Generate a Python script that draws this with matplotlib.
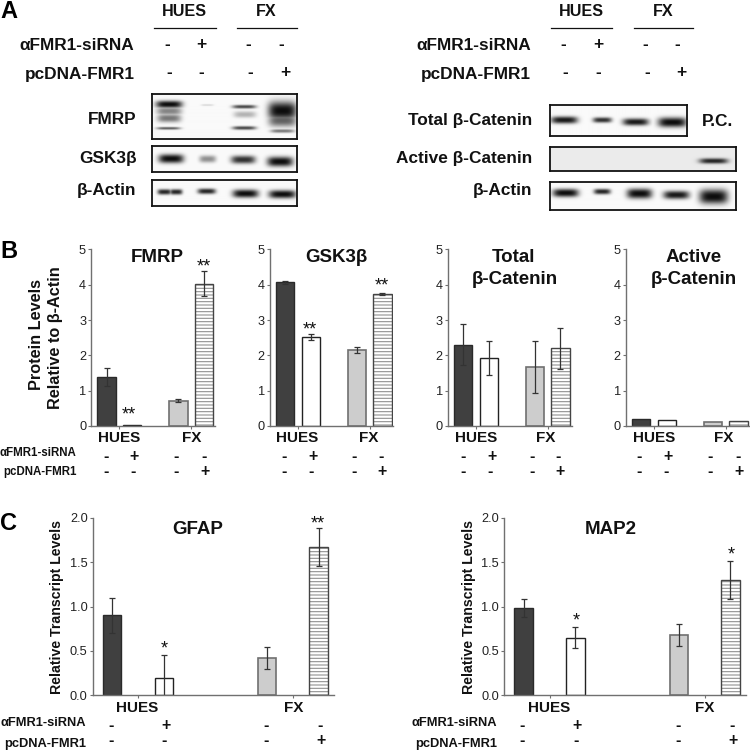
import numpy as np
import matplotlib
matplotlib.use("Agg")
import matplotlib.pyplot as plt

plt.rcParams['font.family'] = ['Liberation Sans', 'DejaVu Sans']
plt.rcParams['hatch.linewidth'] = 0.8

W, H = 750, 751

# bar values and errors, order is HUES -, HUES +, FX -, FX +
fmrpVals = [1.38, 0.03, 0.72, 4.03]
fmrpErrs = [0.25, 0.0, 0.05, 0.35]
gskVals = [4.07, 2.52, 2.15, 3.73]
gskErrs = [0.05, 0.09, 0.08, 0.03]
totalVals = [2.30, 1.93, 1.68, 2.20]
totalErrs = [0.58, 0.48, 0.74, 0.58]
activeVals = [0.20, 0.16, 0.10, 0.13]
activeErrs = [0.0, 0.0, 0.0, 0.0]
gfapVals = [0.90, 0.20, 0.42, 1.67]
gfapErrs = [0.20, 0.25, 0.125, 0.21]
map2Vals = [0.98, 0.65, 0.68, 1.30]
map2Errs = [0.10, 0.12, 0.12, 0.21]

siRNA = ['-', '+', '-', '-']
pcDNA = ['-', '-', '-', '+']

# blot bands: lane x, lane y, half width, half height, darkness (in zoomed crop units)
fmrpBands = [(507, 315, 38, 8, 1.0), (507, 335, 36, 9, .5), (507, 356, 34, 9, .55), (505, 386, 34, 3, .65),
             (622, 317, 18, 2, .15), (733, 322, 34, 4, .75), (735, 345, 32, 7, .3), (733, 385, 34, 4, .75),
             (848, 334, 41, 20, 1.0), (848, 362, 40, 14, .65), (848, 394, 34, 4, .55)]
gskBands = [(513, 476, 36, 10, 1.0), (623, 477, 24, 8, .45), (730, 479, 35, 9, .85), (841, 485, 37, 11, 1.0)]
actinBands = [(493, 575, 20, 6, .9), (528, 575, 18, 6, .9), (620, 573, 26, 6, .9), (737, 580, 37, 9, 1.0),
              (848, 582, 39, 9, 1.0)]
totalBands = [(566, 360, 38, 8, .95), (680, 360, 27, 6, .85), (780, 366, 37, 8, .95), (890, 367, 41, 11, 1.0)]
activeBands = [(1015, 483, 41, 6, .9)]
actin2Bands = [(570, 581, 37, 9, 1.0), (680, 577, 24, 6, .9), (792, 583, 36, 11, 1.0), (903, 587, 37, 9, .95),
               (1015, 592, 41, 16, 1.0)]

fig = plt.figure(figsize=(7.5, 7.51), dpi=100)


def pxAxes(x0, y0, x1, y1, **kw):
    return fig.add_axes([x0 / W, 1 - y1 / H, (x1 - x0) / W, (y1 - y0) / H], **kw)


def drawBlot(x0, y0, x1, y1, bands, offX, offY, bg=0.98):
    ax = pxAxes(x0, y0, x1, y1)
    xs = np.linspace(x0, x1, int(x1 - x0) * 2)
    ys = np.linspace(y0, y1, int(y1 - y0) * 2)
    xx, yy = np.meshgrid(xs, ys)
    dark = np.zeros_like(xx)
    for bx, by, hw, hh, amt in bands:
        bx = offX + bx / 3.0
        by = offY + by / 3.0
        g = np.exp(-np.abs((xx - bx) / (hw * 1.05 / 3.0)) ** 4 - np.abs((yy - by) / (hh * 1.35 / 3.0)) ** 2.4)
        dark = np.maximum(dark, amt * g)
    img = bg * (1 - dark) + 0.05 * dark
    ax.imshow(img, cmap='gray', vmin=0, vmax=1, aspect='auto', interpolation='bilinear')
    ax.set_xticks([])
    ax.set_yticks([])
    for s in ax.spines.values():
        s.set_linewidth(1.3)
        s.set_color('#111111')


def drawBars(x0, y0, x1, y1, pos, width, xlim, ylim, yticks, fmt, tickX, vals, errs):
    ax = pxAxes(x0, y0, x1, y1)
    ax.patch.set_alpha(0)
    ax.bar(pos[0], vals[0], width, color='#404040', edgecolor='#2a2a2a', linewidth=1.0)
    ax.bar(pos[1], vals[1], width, color='white', edgecolor='#222222', linewidth=1.0)
    ax.bar(pos[2], vals[2], width, color='#cdcdcd', edgecolor='#707070', linewidth=1.2)
    ax.bar(pos[3], vals[3], width, color='white', edgecolor='#909090', linewidth=0, hatch='-----')
    ax.bar(pos[3], vals[3], width, color='none', edgecolor='#444444', linewidth=1.0)
    for p, v, e in zip(pos, vals, errs):
        if e > 0:
            ax.errorbar(p, v, yerr=e, color='#333333', elinewidth=0.9, capsize=2.5, capthick=0.9)
    ax.set_xlim(xlim)
    ax.set_ylim(ylim)
    ax.set_yticks(yticks)
    ax.set_yticklabels([fmt % t for t in yticks], fontsize=9.2, color='#222222')
    ax.set_xticks(tickX)
    ax.set_xticklabels([])
    ax.tick_params(axis='both', length=2, width=0.8, color='#707070', pad=1.5)
    ax.spines['top'].set_visible(False)
    ax.spines['right'].set_visible(False)
    ax.spines['left'].set_color('#707070')
    ax.spines['bottom'].set_color('#707070')
    ax.spines['left'].set_linewidth(1.0)
    ax.spines['bottom'].set_linewidth(1.0)
    return ax


# western blots, panel A
drawBlot(152, 94, 297, 139, fmrpBands, 0, 0)
drawBlot(152, 146, 297, 172, gskBands, 0, 0)
drawBlot(152, 180, 297, 205.5, actinBands, 0, 0)
drawBlot(549.5, 105, 687, 136, totalBands, 375, 0)
drawBlot(549.5, 147, 735.5, 171, activeBands, 375, 0, bg=0.92)
drawBlot(549.5, 182, 735.5, 209.5, actin2Bands, 375, 0)

# panel B
posB = [0, 1, 2.8, 3.8]
xlimB = (-0.61, 4.23)
yB = (0, 5)
tB = [0, 1, 2, 3, 4, 5]
ticksB = [0.5, 3.3]
drawBars(91, 249.5, 215, 426, posB, 0.715, xlimB, yB, tB, '%d', ticksB, fmrpVals, fmrpErrs)
drawBars(269.5, 249.5, 393.5, 426, posB, 0.715, xlimB, yB, tB, '%d', ticksB, gskVals, gskErrs)
drawBars(447.5, 249.5, 571.5, 426, posB, 0.715, xlimB, yB, tB, '%d', ticksB, totalVals, totalErrs)
drawBars(625.5, 249.5, 749.5, 426, posB, 0.715, xlimB, yB, tB, '%d', ticksB, activeVals, activeErrs)

# panel C
posC = [0, 1, 3, 4]
xlimC = (-0.38, 4.3)
yC = (0, 2)
tC = [0, 0.5, 1.0, 1.5, 2.0]
ticksC = [0.5, 3.5]
drawBars(92.5, 517.7, 334, 695.3, posC, 0.355, xlimC, yC, tC, '%.1f', ticksC, gfapVals, gfapErrs)
drawBars(504, 517.7, 746, 695.3, posC, 0.355, xlimC, yC, tC, '%.1f', ticksC, map2Vals, map2Errs)

# everything else sits on a pixel-coordinate overlay
ov = fig.add_axes([0, 0, 1, 1], zorder=20)
ov.set_xlim(0, W)
ov.set_ylim(H, 0)
ov.axis('off')


def txt(x, y, s, size, ha='center', rot=0, weight='bold', color='#111111'):
    if rot == 0:
        y = y + 1
    ov.text(x, y, s, fontsize=size, ha=ha, va='center', rotation=rot, fontweight=weight, color=color)


def signs(xs, y, vals, size=12.5):
    for x, v in zip(xs, vals):
        txt(x, y - 1, v, size)


# panel letters
txt(0, 10, 'A', 17, ha='left', color='black')
txt(0, 250, 'B', 17, ha='left', color='black')
txt(0, 523, 'C', 17, ha='left', color='black')

# panel A headers
for hx, fx, l1, l2 in [(184, 265.7, (154, 215.7), (237.3, 296.7)), (581, 662.7, (551, 612.3), (634.3, 693.3))]:
    txt(hx, 10, 'HUES', 11.6)
    txt(fx, 10, 'FX', 11.6)
    ov.plot(l1, [27.7, 27.7], color='#111111', lw=0.9)
    ov.plot(l2, [27.7, 27.7], color='#111111', lw=0.9)

txt(134.5, 44, 'αFMR1-siRNA', 12.4, ha='right')
txt(135, 73, 'pcDNA-FMR1', 12.4, ha='right')
txt(136.5, 119, 'FMRP', 12.4, ha='right')
txt(136.5, 157, 'GSK3β', 12.4, ha='right')
txt(136.5, 190, 'β-Actin', 12.4, ha='right')
txt(531, 44, 'αFMR1-siRNA', 12.4, ha='right')
txt(531, 73, 'pcDNA-FMR1', 12.4, ha='right')
txt(532.5, 120, 'Total β-Catenin', 12.4, ha='right')
txt(532.5, 158, 'Active β-Catenin', 12.4, ha='right')
txt(532.5, 190, 'β-Actin', 12.4, ha='right')
txt(702, 121, 'P.C.', 12.4, ha='left')

signs([167.3, 201.3, 248, 281], 45, siRNA)
signs([169, 201.3, 250.7, 285], 73, pcDNA)
signs([563.7, 598.3, 645, 677.7], 45, siRNA)
signs([565.7, 598.3, 647, 681.7], 73, pcDNA)

# panel B text
txt(157.7, 256, 'FMRP', 13.5)
txt(336.7, 256, 'GSK3β', 13.5)
txt(513.5, 256, 'Total', 13.5)
txt(514.5, 279, 'β-Catenin', 13.5)
txt(693.5, 256, 'Active', 13.5)
txt(693.5, 279, 'β-Catenin', 13.5)
txt(36.7, 335, 'Protein Levels', 11.7, rot=90)
txt(56, 338, 'Relative to β-Actin', 11.7, rot=90)
for hx, fx in [(119, 191.7), (296.7, 368.7), (476, 545.3), (654, 723.3)]:
    txt(hx, 436.5, 'HUES', 11)
    txt(fx, 436.5, 'FX', 11)
txt(76, 451.5, 'αFMR1-siRNA', 8.3, ha='right')
txt(77, 471, 'pcDNA-FMR1', 8.3, ha='right')
signs([105.7, 134.3, 176, 204], 456, siRNA, 11.5)
signs([105.7, 133, 176, 205], 471.5, pcDNA, 11.5)
signs([284.3, 312.7, 354.3, 381], 456, siRNA, 11.5)
signs([284.3, 311, 354.3, 382.3], 471.5, pcDNA, 11.5)
signs([463.3, 491.7, 531.7, 558.3], 456, siRNA, 11.5)
signs([463.3, 490.5, 531.7, 560], 471.5, pcDNA, 11.5)
signs([639, 667.7, 710, 737.7], 456, siRNA, 11.5)
signs([639, 666.5, 710, 739], 471.5, pcDNA, 11.5)

# panel C text
txt(197.3, 529, 'GFAP', 13.5)
txt(611, 529, 'MAP2', 13.5)
for lx, hx, fx, sx, px in [(57.3, 137.3, 293.3, [110.7, 165.7, 266, 320], [110.7, 164, 266, 321]),
                           (469, 549, 704.3, [522.3, 577.3, 678, 731.7], [521.7, 576, 678, 733.3])]:
    txt(lx, 606.5, 'Relative Transcript Levels', 10.2, rot=90)
    txt(hx, 706.5, 'HUES', 11)
    txt(fx, 706.5, 'FX', 11)
    signs(sx, 725.7, siRNA, 11.5)
    signs(px, 741, pcDNA, 11.5)
txt(86, 722.5, 'αFMR1-siRNA', 9.3, ha='right')
txt(86, 743.5, 'pcDNA-FMR1', 9.3, ha='right')
txt(497, 722.5, 'αFMR1-siRNA', 9.3, ha='right')
txt(497, 743.5, 'pcDNA-FMR1', 9.3, ha='right')

# significance stars
for sx, sy, s in [(129.3, 414, '**'), (204, 266, '**'), (310, 329, '**'), (381.7, 285, '**'),
                  (164, 647.5, '*'), (318, 523, '**'), (576, 620, '*'), (731, 554, '*')]:
    txt(sx, sy, s, 13, weight='normal')

fig.savefig("out.png", dpi=100)
plt.close()
